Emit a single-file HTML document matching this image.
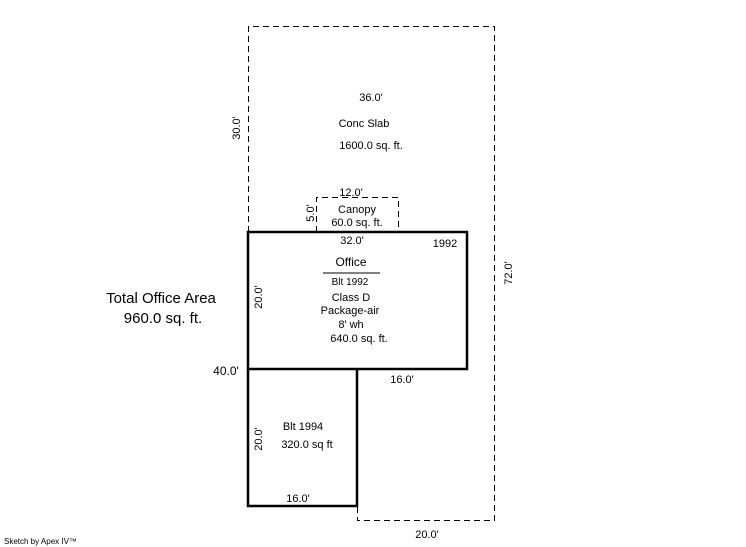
<!DOCTYPE html>
<html><head><style>body{margin:0;background:#fff}svg{display:block}text{font-family:"Liberation Sans",sans-serif;fill:#000}</style></head>
<body>
<svg width="746" height="547" viewBox="0 0 746 547">
<g fill="none" stroke="#000" stroke-width="1" stroke-dasharray="6,4">
<path d="M248.5 232V26.5H494.5V520.5H357.5V506"/>
<path d="M316.5 232V197.5H398.5V232"/>
</g>
<g fill="none" stroke="#000" stroke-width="2.5">
<rect x="248" y="232" width="219" height="137"/>
<path d="M248 369V506H357V369"/>
</g>
<line x1="323" y1="273" x2="380" y2="273" stroke="#000" stroke-width="1"/>
<g font-size="11">
<text x="371" y="101" text-anchor="middle">36.0'</text>
<text x="364" y="127" text-anchor="middle">Conc Slab</text>
<text x="371" y="149" text-anchor="middle">1600.0 sq. ft.</text>
<text x="351" y="196" text-anchor="middle">12.0'</text>
<text x="357" y="213" text-anchor="middle">Canopy</text>
<text x="357" y="226" text-anchor="middle">60.0 sq. ft.</text>
<text x="352" y="244" text-anchor="middle">32.0'</text>
<text x="445" y="247" text-anchor="middle">1992</text>
<text x="351" y="266" text-anchor="middle" font-size="12">Office</text>
<text x="350" y="285" text-anchor="middle" font-size="10">Blt 1992</text>
<text x="351" y="301" text-anchor="middle">Class D</text>
<text x="350" y="314" text-anchor="middle">Package-air</text>
<text x="351" y="328" text-anchor="middle">8' wh</text>
<text x="359" y="342" text-anchor="middle">640.0 sq. ft.</text>
<text x="402" y="383" text-anchor="middle">16.0'</text>
<text x="303" y="430" text-anchor="middle">Blt 1994</text>
<text x="307" y="448" text-anchor="middle">320.0 sq ft</text>
<text x="298" y="502" text-anchor="middle">16.0'</text>
<text x="427" y="538" text-anchor="middle">20.0'</text>
<text x="226" y="375" text-anchor="middle" font-size="12">40.0'</text>
<text transform="translate(240,128) rotate(-90)" text-anchor="middle">30.0'</text>
<text transform="translate(314,213) rotate(-90)" text-anchor="middle">5.0'</text>
<text transform="translate(262,297) rotate(-90)" text-anchor="middle">20.0'</text>
<text transform="translate(262,439) rotate(-90)" text-anchor="middle">20.0'</text>
<text transform="translate(512,273) rotate(-90)" text-anchor="middle">72.0'</text>
</g>
<text x="161" y="303" text-anchor="middle" font-size="15">Total Office Area</text>
<text x="163" y="323" text-anchor="middle" font-size="15">960.0 sq. ft.</text>
<text x="4" y="544" font-size="8">Sketch by Apex IV™</text>
</svg>
</body></html>
